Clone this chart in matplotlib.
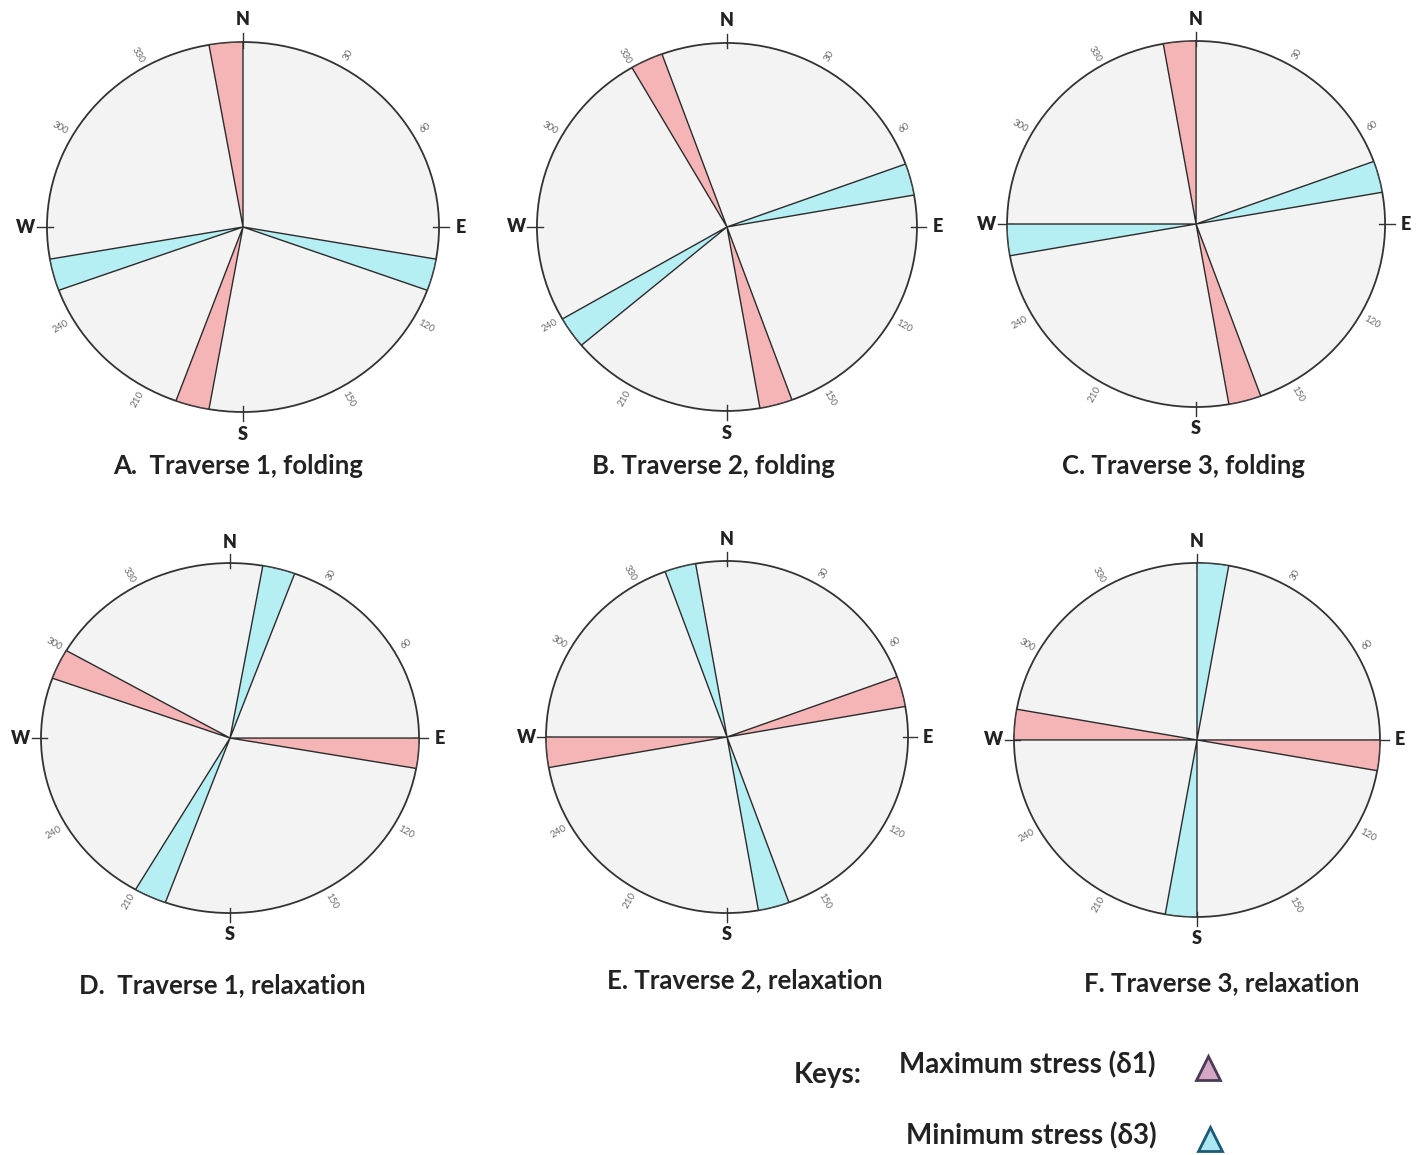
import numpy as np
import matplotlib.pyplot as plt

plt.rcParams['font.family'] = ['Lato', 'DejaVu Sans']

# panel captions
titles = ['A.  Traverse 1, folding', 'B. Traverse 2, folding', 'C. Traverse 3, folding',
          'D.  Traverse 1, relaxation', 'E. Traverse 2, relaxation', 'F. Traverse 3, relaxation']

# start bearing (deg) of each 10 degree sector
max_stress = [[350, 190], [330, 160], [350, 160], [290, 90], [70, 260], [270, 90]]
min_stress = [[100, 250], [70, 230], [70, 260], [10, 200], [340, 160], [0, 180]]
bin_width = 10

deg_labels = [30, 60, 120, 150, 210, 240, 300, 330]
compass = {'N': 0, 'E': 90, 'S': 180, 'W': 270}

# axes boxes [left, bottom, width, height] in figure fractions
boxes = [[0.0331, 0.6433, 0.2763, 0.3203],
         [0.3784, 0.6442, 0.2678, 0.3186],
         [0.7097, 0.6476, 0.2664, 0.3169],
         [0.0289, 0.2095, 0.2664, 0.3030],
         [0.3848, 0.2095, 0.2551, 0.3048],
         [0.7146, 0.2061, 0.2579, 0.3065]]
title_xy = [(238, 466), (713, 466), (1184, 466), (222, 985), (745, 980), (1222, 983)]

pink = '#f5b5b7'
cyan = '#b5eff3'
W, H = 1419, 1155

fig = plt.figure(figsize=(W / 100, H / 100), dpi=100)

for i in range(6):
    ax = fig.add_axes(boxes[i], projection='polar')
    ax.set_aspect('auto')
    ax.set_theta_zero_location('N')
    ax.set_theta_direction(-1)
    ax.set_ylim(0, 1)
    ax.set_facecolor('#f3f3f3')
    ax.grid(False)
    ax.set_xticks([])
    ax.set_yticks([])
    ax.spines['polar'].set_color('#333333')
    ax.spines['polar'].set_linewidth(1.3)

    for vals, col in [(max_stress[i], pink), (min_stress[i], cyan)]:
        th = np.deg2rad(np.array(vals) + bin_width / 2)
        ax.bar(th, np.ones(len(vals)), width=np.deg2rad(bin_width), bottom=0,
               color=col, edgecolor='#2b2b2b', linewidth=1.0, zorder=3)

    for lab in deg_labels:
        rot = (90 - lab) % 180
        if rot > 90:
            rot -= 180
        ax.text(np.deg2rad(lab), 1.075, str(lab), fontsize=7, color='#6a6a6a',
                rotation=rot, ha='center', va='center', clip_on=False)

    for lab, b in compass.items():
        t = np.deg2rad(b)
        ax.plot([t, t], [0.97, 1.05], color='#333333', lw=1.0, clip_on=False)
        r = 1.12 if lab in 'NS' else 1.11
        ax.text(t, r, lab, fontsize=13, fontweight='heavy', color='#222222',
                ha='center', va='center', clip_on=False)

    fig.text(title_xy[i][0] / W, 1 - title_xy[i][1] / H, titles[i], fontsize=18.5,
             fontweight='bold', color='#222222', ha='center', va='center')

# keys
fig.text(828 / W, 1 - 1075 / H, 'Keys:', fontsize=20, fontweight='bold',
         color='#222222', ha='center', va='center')
fig.text(1027 / W, 1 - 1065 / H, 'Maximum stress (δ1)', fontsize=20,
         fontweight='bold', color='#222222', ha='center', va='center')
fig.text(1031 / W, 1 - 1136 / H, 'Minimum stress (δ3)', fontsize=20,
         fontweight='bold', color='#222222', ha='center', va='center')

kax = fig.add_axes([0, 0, 1, 1])
kax.set_xlim(0, W)
kax.set_ylim(H, 0)
kax.axis('off')
kax.plot([1208], [1068], marker='^', markersize=17, markerfacecolor='#d6a6c6',
         markeredgecolor='#4a3b55', markeredgewidth=2)
kax.plot([1210], [1139], marker='^', markersize=17, markerfacecolor='#a9e6f2',
         markeredgecolor='#1d5a75', markeredgewidth=2)

fig.savefig('out.png', dpi=100, facecolor='white')
